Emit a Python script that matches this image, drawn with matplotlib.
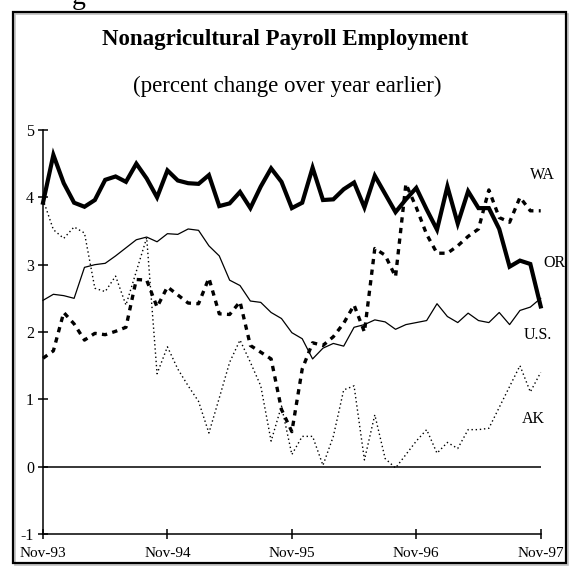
import matplotlib
matplotlib.use("Agg")
import matplotlib.pyplot as plt
from matplotlib.patches import Rectangle
import numpy as np

plt.rcParams['font.family'] = ['Liberation Serif', 'DejaVu Serif']
plt.rcParams['axes.unicode_minus'] = False

# monthly, Nov-93 .. Nov-97
tick_labels = ["Nov-93", "Nov-94", "Nov-95", "Nov-96", "Nov-97"]

oregon = [3.92, 4.63, 4.21, 3.92, 3.86, 3.96, 4.26, 4.31, 4.23, 4.50,
          4.28, 4.00, 4.40, 4.25, 4.21, 4.20, 4.33, 3.87, 3.91, 4.08,
          3.84, 4.16, 4.43, 4.23, 3.84, 3.92, 4.44, 3.96, 3.97, 4.12,
          4.22, 3.85, 4.32, 4.05, 3.78, 3.97, 4.14, 3.82, 3.52, 4.16,
          3.61, 4.09, 3.84, 3.84, 3.53, 2.97, 3.06, 3.01, 2.38]

washington = [1.61, 1.72, 2.29, 2.12, 1.88, 1.98, 1.96, 2.01, 2.07, 2.78,
              2.77, 2.37, 2.67, 2.55, 2.43, 2.42, 2.80, 2.27, 2.26, 2.45,
              1.80, 1.70, 1.60, 0.85, 0.52, 1.45, 1.84, 1.80, 1.93, 2.13,
              2.40, 2.00, 3.24, 3.14, 2.82, 4.20, 3.85, 3.45, 3.17, 3.17,
              3.28, 3.42, 3.53, 4.11, 3.70, 3.63, 4.00, 3.80, 3.80]

us = [2.47, 2.56, 2.54, 2.50, 2.96, 3.00, 3.02, 3.13, 3.25, 3.37,
      3.41, 3.34, 3.46, 3.45, 3.53, 3.51, 3.28, 3.13, 2.77, 2.69,
      2.46, 2.44, 2.29, 2.20, 1.99, 1.90, 1.60, 1.76, 1.83, 1.79,
      2.07, 2.11, 2.18, 2.15, 2.04, 2.11, 2.14, 2.17, 2.42, 2.23,
      2.14, 2.28, 2.17, 2.14, 2.29, 2.11, 2.32, 2.37, 2.50]

alaska = [3.97, 3.52, 3.39, 3.56, 3.47, 2.65, 2.60, 2.83, 2.40, 2.90,
          3.40, 1.38, 1.78, 1.45, 1.20, 0.97, 0.50, 1.02, 1.55, 1.88,
          1.55, 1.20, 0.38, 0.90, 0.18, 0.45, 0.45, 0.02, 0.45, 1.14,
          1.20, 0.10, 0.77, 0.12, -0.02, 0.18, 0.38, 0.55, 0.20, 0.36,
          0.27, 0.55, 0.55, 0.57, 0.88, 1.19, 1.50, 1.11, 1.40]

months = np.arange(len(oregon))
tick_pos = np.arange(len(tick_labels)) * 12

W, H = 571, 576


def px(x, y):
    # pixel position (from top-left) -> figure fraction
    return x / W, 1 - y / H


fig = plt.figure(figsize=(W / 100, H / 100), dpi=100)

# outer frame with a faint shadow
fig.patches.append(Rectangle(px(14.5, 565), (566 - 12.5) / W, (563 - 12) / H,
                             transform=fig.transFigure, fill=False, lw=1.2, ec='0.75'))
fig.patches.append(Rectangle(px(12.5, 563), (566 - 12.5) / W, (563 - 12) / H,
                             transform=fig.transFigure, fill=False, lw=1.6, ec='black'))

# clipped-off letter from the heading above the box
fig.text(*px(72, 4), "g", fontsize=20, va='baseline', ha='left')

fig.text(*px(285, 40), "Nonagricultural Payroll Employment", fontsize=16.5,
         fontweight='bold', ha='center', va='center')
fig.text(*px(287, 86), "(percent change over year earlier)", fontsize=16.5,
         ha='center', va='center')

ax = fig.add_axes([43 / W, 1 - 534 / H, (540.7 - 43) / W, (534 - 130) / H])

ax.plot(months, oregon, color='black', lw=3.0, solid_joinstyle='miter', clip_on=False)
ax.plot(months, washington, color='black', lw=2.4, dashes=(1.6, 1.6), clip_on=False)
ax.plot(months, us, color='black', lw=0.9, clip_on=False)
ax.plot(months, alaska, color='black', lw=1.0, linestyle=(0, (1, 2)), clip_on=False)
ax.axhline(0, color='black', lw=1.1)

ax.set_xlim(0, 48)
ax.set_ylim(-1, 5)
ax.set_xticks(tick_pos)
ax.set_xticklabels(tick_labels)
ax.set_yticks(range(-1, 6))

for side in ['top', 'right']:
    ax.spines[side].set_visible(False)
for side in ['left', 'bottom']:
    ax.spines[side].set_linewidth(1.1)

ax.tick_params(direction='inout', length=7, width=1.1, labelsize=11, colors='black')
ax.tick_params(axis='y', pad=3, labelsize=11.5)
ax.tick_params(axis='x', pad=6)

fig.text(*px(530, 175), "WA", fontsize=11.5, va='center')
fig.text(*px(543, 263), "OR", fontsize=11.5, va='center')
fig.text(*px(524, 335), "U.S.", fontsize=11.5, va='center')
fig.text(*px(522, 419), "AK", fontsize=11.5, va='center')

fig.savefig("out.png", dpi=100)
